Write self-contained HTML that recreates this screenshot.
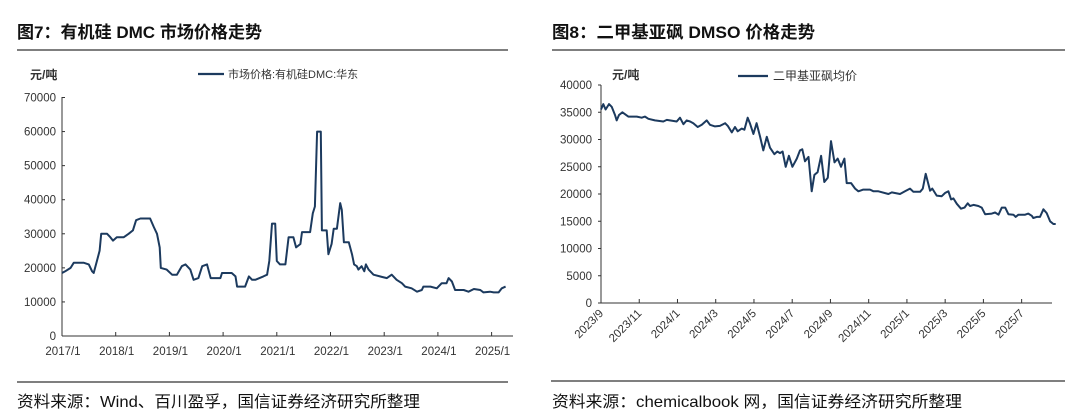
<!DOCTYPE html>
<html><head><meta charset="utf-8">
<style>
html,body{margin:0;padding:0;background:#fff;}
svg{display:block;font-family:"Liberation Sans","Noto Sans CJK SC",sans-serif;}
.t{font-size:17px;fill:#111;font-weight:bold;}
.ax{font-size:11.5px;fill:#333;}
.ft{font-size:16px;fill:#111;}
</style></head>
<body>
<svg id="root" width="1080" height="417" viewBox="0 0 1080 417">
<text class="t" x="17" y="38" textLength="245" lengthAdjust="spacingAndGlyphs">图7：有机硅 DMC 市场价格走势</text>
<line x1="17" y1="50" x2="508" y2="50" stroke="#333" stroke-width="1.2"/>
<text class="t" x="552" y="38" textLength="263" lengthAdjust="spacingAndGlyphs">图8：二甲基亚砜 DMSO 价格走势</text>
<line x1="552" y1="50" x2="1065" y2="50" stroke="#333" stroke-width="1.2"/>

<text x="30" y="79" font-size="12" font-weight="bold" fill="#333">元/吨</text>
<line x1="198" y1="74" x2="224" y2="74" stroke="#1c3a5e" stroke-width="2.2"/>
<text x="228" y="78" font-size="11" fill="#333">市场价格:有机硅DMC:华东</text>

<text x="612" y="79" font-size="12" font-weight="bold" fill="#333">元/吨</text>
<line x1="738" y1="76" x2="768" y2="76" stroke="#1c3a5e" stroke-width="2.2"/>
<text x="773" y="80" font-size="12" fill="#333">二甲基亚砜均价</text>

<g id="left"></g>
<g id="right"></g>

<line x1="17" y1="382" x2="508" y2="382" stroke="#333" stroke-width="1.2"/>
<text class="ft" x="17" y="407" textLength="403" lengthAdjust="spacingAndGlyphs">资料来源：Wind、百川盈孚，国信证券经济研究所整理</text>
<line x1="551" y1="381" x2="1065" y2="381" stroke="#333" stroke-width="1.2"/>
<text class="ft" x="552" y="407" textLength="410" lengthAdjust="spacingAndGlyphs">资料来源：chemicalbook 网，国信证券经济研究所整理</text>
</svg>
<script>
const NS="http://www.w3.org/2000/svg";
// Left chart data (decimal years)
const dmcDates=[2017.00,2017.06,2017.16,2017.22,2017.40,2017.50,2017.56,2017.59,2017.65,2017.70,2017.73,2017.84,2017.90,2017.95,2018.02,2018.15,2018.24,2018.32,2018.38,2018.46,2018.64,2018.71,2018.77,2018.82,2018.84,2018.95,2019.05,2019.14,2019.23,2019.30,2019.39,2019.45,2019.54,2019.61,2019.70,2019.77,2019.95,2019.98,2020.16,2020.23,2020.26,2020.41,2020.48,2020.54,2020.60,2020.75,2020.82,2020.86,2020.91,2020.97,2021.00,2021.06,2021.16,2021.22,2021.31,2021.36,2021.44,2021.47,2021.62,2021.67,2021.71,2021.75,2021.82,2021.84,2021.93,2021.96,2022.02,2022.06,2022.12,2022.18,2022.21,2022.25,2022.34,2022.40,2022.44,2022.49,2022.52,2022.58,2022.63,2022.66,2022.71,2022.80,2022.92,2023.05,2023.14,2023.23,2023.33,2023.39,2023.51,2023.61,2023.70,2023.73,2023.86,2023.98,2024.07,2024.16,2024.20,2024.26,2024.32,2024.48,2024.57,2024.67,2024.79,2024.85,2024.97,2025.04,2025.13,2025.19,2025.26];
const dmcValues=[18500,19000,20000,21500,21500,21000,19000,18500,22000,25000,30000,30000,29000,28000,29000,29000,30000,31000,34000,34500,34500,32000,30000,26000,20000,19500,18000,18000,20500,21000,19500,16500,17000,20500,21000,17000,17000,18500,18500,17500,14500,14500,17500,16500,16500,17500,18000,22000,33000,33000,22000,21000,21000,29000,29000,26000,27000,30500,30500,36000,38000,60000,60000,31000,31000,24000,27000,31500,31500,39000,37000,27500,27500,24000,21000,20500,19500,20500,19000,21000,19500,18000,17500,17000,18000,16500,15500,14500,14000,13000,13500,14500,14500,14000,15500,15500,17000,16000,13500,13500,13000,13800,13500,12800,13000,12800,12800,14000,14500];
const dmcYTicks=[0,10000,20000,30000,40000,50000,60000,70000];
const dmcXTicks=[2017,2018,2019,2020,2021,2022,2023,2024,2025];
const dmcXLabels=["2017/1","2018/1","2019/1","2020/1","2021/1","2022/1","2023/1","2024/1","2025/1"];
// Right chart data (months since 2023/9)
const dmsoMonths=[0,.12,.24,.42,.56,.73,.82,.94,1.12,1.43,1.87,2.13,2.30,2.48,2.82,3.26,3.44,3.96,4.13,4.31,4.48,4.66,4.83,5.06,5.27,5.53,5.70,5.96,6.22,6.49,6.63,6.84,7.01,7.15,7.36,7.50,7.67,7.79,7.97,8.14,8.32,8.49,8.67,8.84,9.07,9.22,9.36,9.50,9.66,9.83,10.01,10.24,10.41,10.53,10.67,10.85,11.02,11.16,11.33,11.51,11.68,11.86,12.03,12.21,12.38,12.55,12.73,12.85,13.08,13.29,13.46,13.72,14.07,14.25,14.51,15.03,15.21,15.64,15.90,16.16,16.34,16.69,16.83,16.98,17.21,17.33,17.56,17.82,18.00,18.17,18.31,18.43,18.61,18.83,19.01,19.18,19.30,19.48,19.74,19.91,20.09,20.44,20.61,20.79,20.96,21.14,21.31,21.57,21.69,21.83,22.18,22.35,22.53,22.61,22.79,22.96,23.14,23.31,23.49,23.66,23.78];
const dmsoValues=[35500,36500,35500,36500,36000,34500,33500,34500,35000,34200,34200,34000,34200,33800,33500,33300,33600,33300,34000,32800,33500,33300,33000,32300,32700,33500,32700,32400,32500,33000,32500,31300,32300,31500,32000,31800,34000,33000,31000,33000,30500,28000,30500,28500,27300,27800,27500,27800,25000,27000,25000,26500,28000,28200,26000,26800,20500,23500,24000,27000,22200,23000,29700,25800,26500,25000,26500,22000,22000,21000,20500,20800,20800,20500,20500,20000,20300,20000,20500,21000,20400,20400,21000,23700,20600,21000,19700,19600,20200,20500,19000,19200,18200,17300,17500,18300,17800,18000,17800,17500,16300,16400,16600,16200,17500,17500,16300,16200,15800,16200,16200,16400,16000,15600,15800,15800,17200,16500,15000,14500,14500];
const dmsoYTicks=[0,5000,10000,15000,20000,25000,30000,35000,40000];
const dmsoXTicks=[0,2,4,6,8,10,12,14,16,18,20,22];
const dmsoXLabels=["2023/9","2023/11","2024/1","2024/3","2024/5","2024/7","2024/9","2024/11","2025/1","2025/3","2025/5","2025/7"];

function mk(tag,attrs,parent){const e=document.createElementNS(NS,tag);for(const k in attrs)e.setAttribute(k,attrs[k]);parent.appendChild(e);return e;}

// Left chart
(function(){
const g=document.getElementById('left');
const x=t=>62+(t-2017)*53.7, y=v=>336-v/70000*238.5;
const ax=mk('line',{x1:62,y1:97,x2:62,y2:336,stroke:'#333','stroke-width':1},g);


const bx=mk('line',{x1:62,y1:336,x2:513,y2:336,stroke:'#333','stroke-width':1},g);


dmcYTicks.forEach(v=>{
  const tk=mk('line',{x1:62,y1:y(v),x2:65,y2:y(v),stroke:'#333'},g);
  
  
  const t=mk('text',{x:56,y:y(v)+4,'text-anchor':'end',class:'ax'},g);t.textContent=v;
  
  
});
dmcXTicks.forEach((d,i)=>{
  const tk=mk('line',{x1:x(d),y1:336,x2:x(d),y2:332,stroke:'#333'},g);
  
  
  const t=mk('text',{x:x(d)+1,y:355,'text-anchor':'middle',class:'ax'},g);t.textContent=dmcXLabels[i];
  
  
});
const p=mk('polyline',{points:dmcDates.map((d,i)=>x(d).toFixed(1)+','+y(dmcValues[i]).toFixed(1)).join(' '),fill:'none',stroke:'#1c3a5e','stroke-width':2,'stroke-linejoin':'round'},g);


})();

// Right chart
(function(){
const g=document.getElementById('right');
const x=m=>601+m*19.12, y=v=>303-v/40000*218;
const ax=mk('line',{x1:601,y1:85,x2:601,y2:303,stroke:'#333','stroke-width':1},g);


const bx=mk('line',{x1:601,y1:303,x2:1052,y2:303,stroke:'#333','stroke-width':1},g);


dmsoYTicks.forEach(v=>{
  const tk=mk('line',{x1:598,y1:y(v),x2:601,y2:y(v),stroke:'#333'},g);
  
  
  const t=mk('text',{x:592,y:y(v)+4,'text-anchor':'end',class:'ax'},g);t.textContent=v;
  
  
});
dmsoXTicks.forEach((m,i)=>{
  const tk=mk('line',{x1:x(m),y1:303,x2:x(m),y2:299,stroke:'#333'},g);
  
  
  const tx=x(m)+3, ty=314;
  const t=mk('text',{x:tx,y:ty,'text-anchor':'end',class:'ax',transform:'rotate(-45 '+tx+' '+ty+')'},g);t.textContent=dmsoXLabels[i];
  
  
});
const p=mk('polyline',{points:dmsoMonths.map((m,i)=>x(m).toFixed(1)+','+y(dmsoValues[i]).toFixed(1)).join(' '),fill:'none',stroke:'#1c3a5e','stroke-width':2,'stroke-linejoin':'round'},g);


})();
</script>
</body></html>
